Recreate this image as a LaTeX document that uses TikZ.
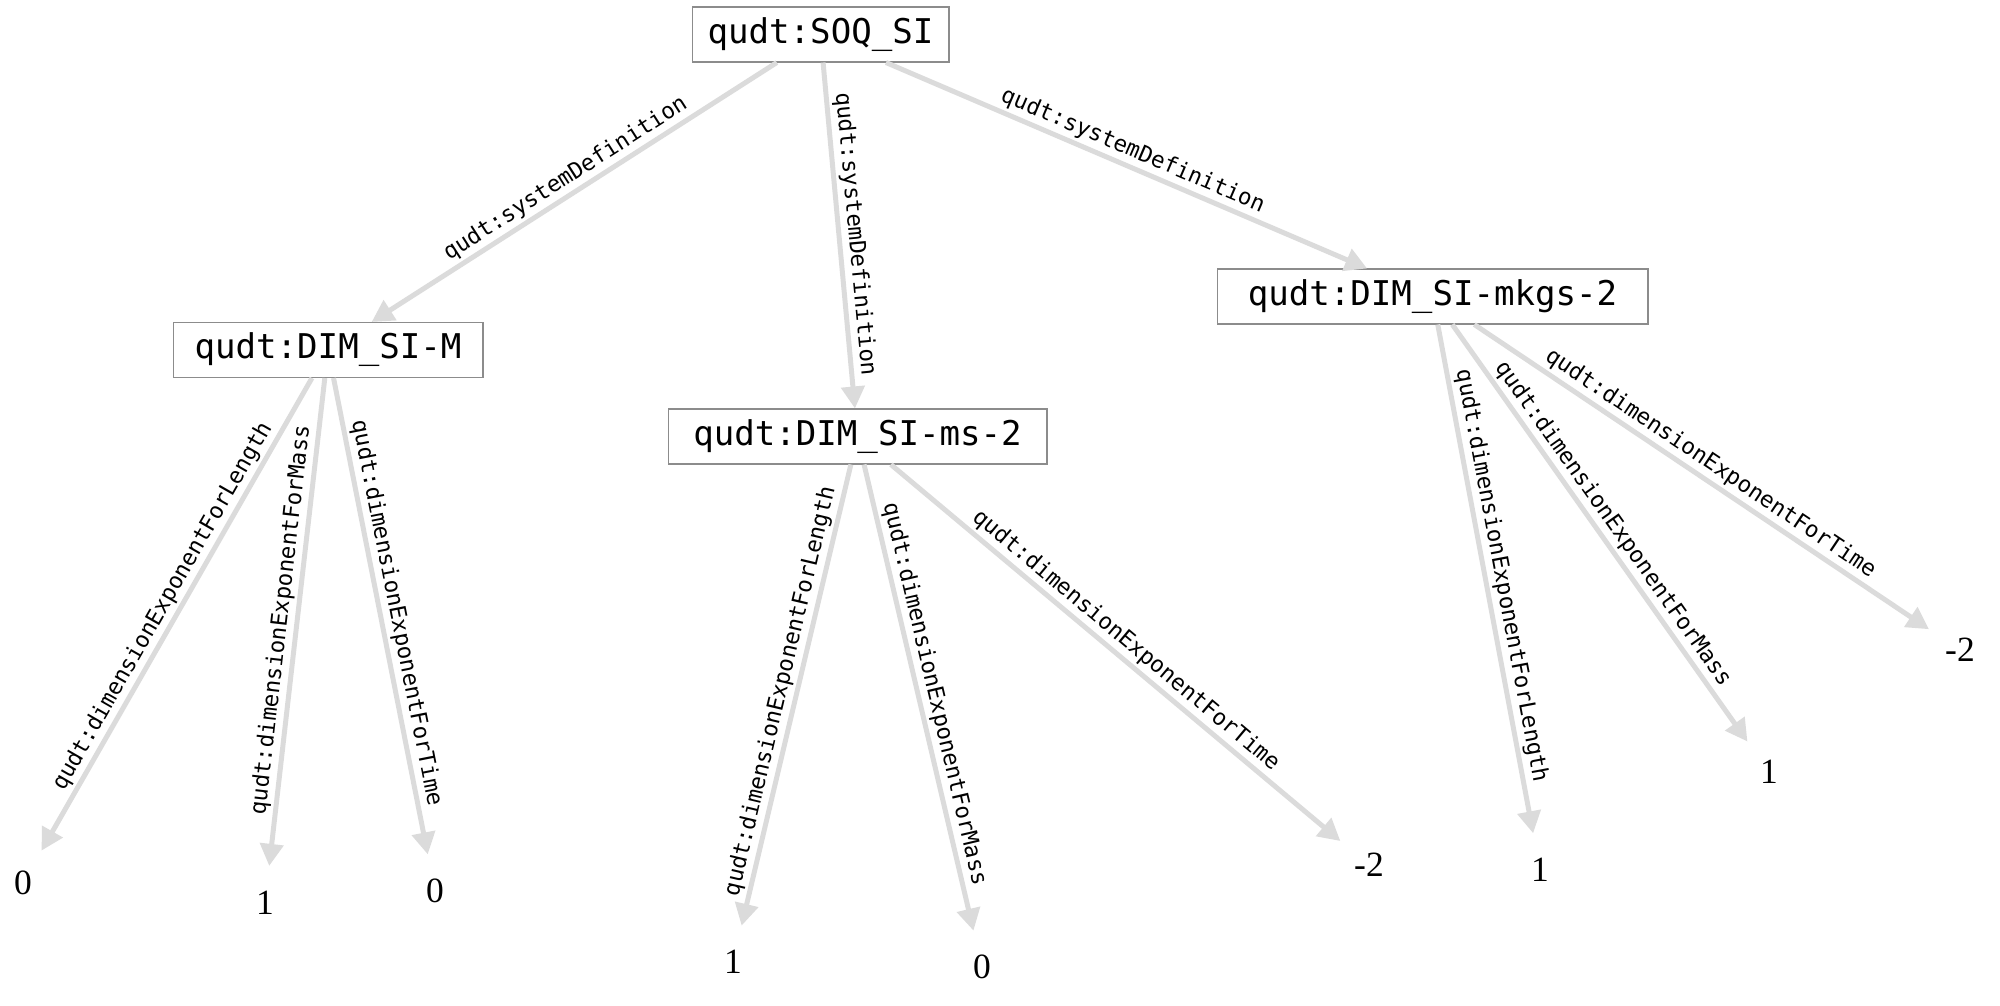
\documentclass[tikz,border=0pt]{standalone}
\usepackage{fontspec}
\setmainfont{Liberation Serif}
\newfontfamily\monofont{DejaVu Sans Mono}
\usetikzlibrary{arrows.meta}

\begin{document}
\begin{tikzpicture}[x=0.02cm, y=-0.02cm,
  res/.style={draw=black!45, line width=0.6pt, fill=white, inner sep=0pt,
    minimum height=1.1cm, font=\monofont\fontsize{19.4}{22}\selectfont},
  lit/.style={circle, inner sep=0pt, minimum size=1.48cm,
    font=\fontsize{20.2}{24}\selectfont},
  rel/.style={draw=black!14, line width=0.1cm,
    -{Triangle[length=0.44cm,width=0.46cm]}},
  lbl/.style={midway, sloped, above, inner sep=1.5pt,
    font=\monofont\fontsize{12.8}{15}\selectfont}
]
\useasboundingbox (0,0) rectangle (2000,1006);

% resources
\node[res, minimum width=5.14cm] (soq)  at (820.5,34.5)  {qudt:SOQ\_SI};
\node[res, minimum width=6.2cm]  (m)    at (328,350)     {qudt:DIM\_SI-M};
\node[res, minimum width=7.58cm] (ms)   at (857.5,436.5) {qudt:DIM\_SI-ms-2};
\node[res, minimum width=8.62cm] (mkgs) at (1432.5,296.5) {qudt:DIM\_SI-mkgs-2};

% literal values
\node[lit] (m0) at (23,883)   {0};
\node[lit] (m1) at (265,903)  {1};
\node[lit] (m2) at (435,891)  {0};
\node[lit] (s0) at (733,962)  {1};
\node[lit] (s1) at (982,967)  {0};
\node[lit] (s2) at (1369,865) {-2};
\node[lit] (k0) at (1540,870) {1};
\node[lit] (k1) at (1769,772) {1};
\node[lit] (k2) at (1960,650) {-2};

% system definitions
\draw[rel] (soq) -- node[lbl] {qudt:systemDefinition} (m);
\draw[rel] (soq) -- node[lbl] {qudt:systemDefinition} (ms);
\draw[rel] (soq) -- node[lbl] {qudt:systemDefinition} (mkgs);

% dimension exponents
\draw[rel] (m) -- node[lbl] {qudt:dimensionExponentForLength} (m0);
\draw[rel] (m) -- node[lbl] {qudt:dimensionExponentForMass} (m1);
\draw[rel] (m) -- node[lbl] {qudt:dimensionExponentForTime} (m2);

\draw[rel] (ms) -- node[lbl] {qudt:dimensionExponentForLength} (s0);
\draw[rel] (ms) -- node[lbl] {qudt:dimensionExponentForMass} (s1);
\draw[rel] (ms) -- node[lbl] {qudt:dimensionExponentForTime} (s2);

\draw[rel] (mkgs) -- node[lbl] {qudt:dimensionExponentForLength} (k0);
\draw[rel] (mkgs) -- node[lbl] {qudt:dimensionExponentForMass} (k1);
\draw[rel] (mkgs) -- node[lbl] {qudt:dimensionExponentForTime} (k2);
\end{tikzpicture}
\end{document}
